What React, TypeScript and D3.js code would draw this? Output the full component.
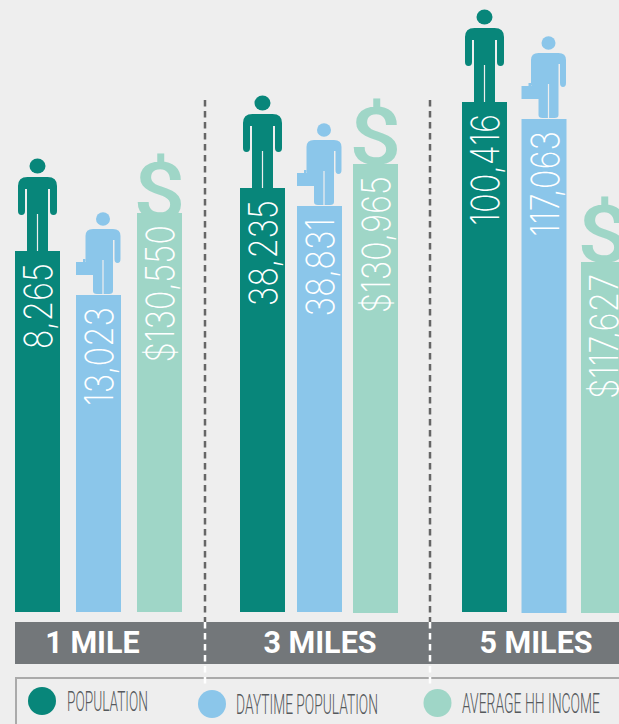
import React from "react";
import * as d3 from "d3";

const rings = ["1 MILE", "3 MILES", "5 MILES"];
const seriesNames = ["POPULATION", "DAYTIME POPULATION", "AVERAGE HH INCOME"];
const population = [8265, 38235, 100416];
const daytime = [13023, 38831, 117063];
const income = [130550, 130965, 117627];

// layout (separate from the data)
const W = 619, H = 724;
const colors = ["#08867a", "#8bc6ea", "#9fd6c7"];
const tops = [[251, 188, 102], [295, 206, 119], [213, 164, 262]];
const bottoms = [[612, 612, 612], [612, 612, 613], [612, 613, 613]];
const lefts = [[15, 240, 462], [76, 297, 521.5], [137, 353, 581]];
const barW = 45;
const bandCenters = [92.5, 320, 536];
const dividers = [205, 430];
const legendX = [42, 212, 437.5];
const legendY = [701, 704, 703];
const legendText = [[67, 81], [236, 142], [462, 138]];
const legendSquash = 0.55;
const dollarDrop = [6, 0, 0];

const seriesValues = [population, daytime, income];
const fmt = d3.format(",");
const labelOf = (s: number, v: number) => (s === 2 ? "$" : "") + fmt(v);

const yScales = seriesValues.map((vals, s) => {
  const idx = d3.range(vals.length).sort((a, b) => vals[a] - vals[b]);
  return d3.scaleLinear().domain(idx.map(i => vals[i])).range(idx.map(i => tops[s][i]));
});

const personPath = d3.path();
personPath.moveTo(-10.5, 0);
personPath.lineTo(-10.5, -62);
personPath.lineTo(-12.5, -62);
personPath.lineTo(-12.5, -40);
personPath.quadraticCurveTo(-12.5, -36, -16, -36);
personPath.quadraticCurveTo(-19.5, -36, -19.5, -40);
personPath.lineTo(-19.5, -65);
personPath.quadraticCurveTo(-19.5, -74, -10, -74);
personPath.lineTo(10, -74);
personPath.quadraticCurveTo(19.5, -74, 19.5, -65);
personPath.lineTo(19.5, -40);
personPath.quadraticCurveTo(19.5, -36, 16, -36);
personPath.quadraticCurveTo(12.5, -36, 12.5, -40);
personPath.lineTo(12.5, -62);
personPath.lineTo(10.5, -62);
personPath.lineTo(10.5, 0);
personPath.closePath();

function Person({ x, y }: { x: number; y: number }) {
  return (
    <g transform={`translate(${x},${y})`}>
      <ellipse cx={0} cy={-85} rx={8} ry={7.5} fill={colors[0]} />
      <path d={personPath.toString()} fill={colors[0]} />
      <rect x={-0.6} y={-37} width={1.2} height={37} fill="#eeeeee" />
    </g>
  );
}

function Worker({ x, y }: { x: number; y: number }) {
  const c = colors[1];
  return (
    <g transform={`translate(${x},${y})`}>
      <ellipse cx={0} cy={-75} rx={7} ry={6.7} fill={c} />
      <path
        d="M-10,-3 L-10,-20 L-17.5,-33 L-17.5,-58 Q-17.5,-65 -10,-65 L10,-65 Q17.5,-65 17.5,-58 L17.5,-35 Q17.5,-31 14.5,-31 Q11.5,-31 11.5,-35 L11.5,-54 L10,-54 L10,-3 Q10,0 6,0 L-6,0 Q-10,0 -10,-3 Z"
        fill={c}
      />
      <rect x={-27} y={-32} width={18} height={13} fill={c} />
      <rect x={-20} y={-35} width={2.5} height={3} fill={c} />
      <rect x={-0.6} y={-34} width={1.2} height={34} fill="#eeeeee" />
    </g>
  );
}

const numberFont = "Inter, Roboto, sans-serif";

export default function App() {
  return (
    <svg
      width={W}
      height={H}
      viewBox={`0 0 ${W} ${H}`}
      style={{ position: "fixed", left: 0, top: 0, background: "#eeeeee", display: "block" }}
    >
      {income.map((v, g) => {
        const cx = lefts[2][g] + barW / 2;
        return (
          <text key={g} transform={`translate(${cx},${yScales[2](v) + dollarDrop[g]}) scale(1.15,1)`} textAnchor="middle" fontFamily="Roboto, sans-serif" fontWeight={500} fontSize={80} fill={colors[2]}>$</text>
        );
      })}
      {rings.map((r, g) => (
        <g key={r}>
          <Person x={lefts[0][g] + barW / 2} y={yScales[0](population[g])} />
          <Worker x={lefts[1][g] + barW / 2 + 4.5} y={yScales[1](daytime[g]) - 1} />
        </g>
      ))}
      {seriesValues.map((vals, s) =>
        vals.map((v, g) => {
          const top = yScales[s](v);
          const cx = lefts[s][g] + barW / 2;
          return (
            <g key={`${s}-${g}`}>
              <rect x={lefts[s][g]} y={top} width={barW} height={bottoms[s][g] - top} fill={colors[s]} />
              <text
                transform={`translate(${cx + 14.5},${top + 12}) rotate(-90) scale(0.84,1)`}
                textAnchor="end"
                fontFamily={numberFont}
                fontWeight={200}
                fontSize={39}
                fill="#ffffff"
              >
                {labelOf(s, v)}
              </text>
            </g>
          );
        })
      )}
      <rect x={15} y={622} width={W - 15} height={42} fill="#73777a" />
      {rings.map((r, g) => (
        <text key={r} x={bandCenters[g]} y={653} textAnchor="middle" fontFamily="Roboto, sans-serif" fontWeight={700} fontSize={30.5} fill="#ffffff">{r}</text>
      ))}
      <path d={`M${W + 5},678 H16 V${H + 5}`} fill="none" stroke="#aaaaaa" strokeWidth={2} />
      {dividers.map(x => (
        <g key={x}>
          <line x1={x} x2={x} y1={100} y2={622} stroke="#666666" strokeWidth={2.5} strokeDasharray="6.5 4.5" />
          <line x1={x} x2={x} y1={622} y2={684} stroke="#ffffff" strokeWidth={2.5} strokeDasharray="6.5 4.5" />
        </g>
      ))}
      {seriesNames.map((n, s) => (
        <g key={n}>
          <circle cx={legendX[s]} cy={legendY[s]} r={14} fill={colors[s]} />
          <text
            transform={`translate(${legendText[s][0]},${legendY[s] + 10}) scale(${legendSquash},1)`}
            textLength={legendText[s][1] / legendSquash}
            lengthAdjust="spacingAndGlyphs"
            fontFamily="Roboto, sans-serif"
            fontWeight={300}
            fontSize={27}
            fill="#55595c"
          >
            {n}
          </text>
        </g>
      ))}
    </svg>
  );
}
